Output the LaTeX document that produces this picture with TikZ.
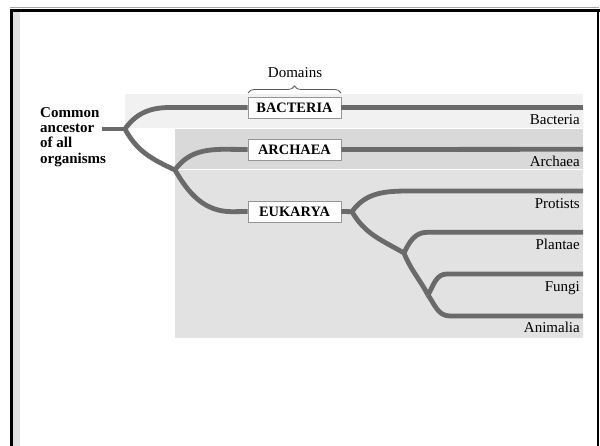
\documentclass[tikz,border=0pt]{standalone}
\usepackage{fontspec}
\setmainfont{Liberation Serif}
\usetikzlibrary{decorations.pathreplacing}
\definecolor{branchgray}{HTML}{6A6A6A}
\definecolor{panelA}{HTML}{F1F1F1}
\definecolor{panelB}{HTML}{D9D9D9}
\definecolor{panelC}{HTML}{E2E2E2}
\definecolor{stripgray}{HTML}{E2E2E2}
\definecolor{boxedge}{HTML}{959595}
\begin{document}
\begin{tikzpicture}[x=1pt,y=1pt,
  branch/.style={draw=branchgray,line width=4.8pt,line join=round},
  domainbox/.style={draw=boxedge,fill=white,line width=0.8pt,minimum width=93pt,
    minimum height=21pt,inner sep=0pt,font=\fontsize{14.4}{15}\selectfont\bfseries},
  leaflabel/.style={anchor=base east,inner sep=0pt,font=\fontsize{15}{15}\selectfont},
]
\useasboundingbox (0,0) rectangle (600,-446);
\fill[white] (0,0) rectangle (600,-446);

% frame
\fill[stripgray] (13,-12) rectangle (20,-446);
\draw[gray!70,line width=1pt] (10,-8) -- (599,-8);
\draw[black,line width=3pt] (10,-10.5) -- (599.5,-10.5);
\draw[black,line width=3pt] (11.5,-9) -- (11.5,-446);
\draw[black,line width=2.5pt] (598.2,-9) -- (598.2,-446);

% background panels
\fill[panelA] (125,-94) rectangle (583,-128.3);
\fill[panelB] (175,-129.3) rectangle (583,-169.5);
\fill[panelC] (175,-170.5) rectangle (583,-338.3);

% domain boxes
\node[domainbox] (bact) at (294.5,-107.5) {BACTERIA};
\node[domainbox] (arch) at (294.5,-149.5) {ARCHAEA};
\node[domainbox] (euk)  at (294.5,-211.5) {EUKARYA};

% brace and heading
\draw[decorate,decoration={brace,amplitude=7pt},draw=black!65,line width=0.8pt]
  (248,-93) -- (341,-93);
\node[anchor=base,inner sep=0pt,font=\fontsize{15}{15}\selectfont] (domains) at (295,-78) {Domains};

% root label
\node[anchor=north west,inner sep=0pt,align=left,
  font=\fontsize{15}{15.2}\selectfont\bfseries] (ancestor) at (40,-107.4)
  {Common\\ancestor\\of all\\organisms};

% junctions, bends and leaf ends
\coordinate (stem) at (102,-129);
\coordinate (root) at (125,-129);
\coordinate (j1) at (175,-170);
\coordinate (j2) at (352,-211.7);
\coordinate (j3) at (404,-253);
\coordinate (j4) at (428,-295);
\coordinate (bBend) at (170,-107.5);
\coordinate (aBend) at (225,-149.3);
\coordinate (eBend) at (232,-211.7);
\coordinate (pBend) at (410,-191);
\coordinate (plBend) at (427,-232.3);
\coordinate (fBend) at (447,-274);
\coordinate (anBend) at (450,-316);
\coordinate (bEnd) at (583,-107.5);
\coordinate (aEnd) at (583,-149.3);
\coordinate (pEnd) at (583,-191);
\coordinate (plEnd) at (583,-232.3);
\coordinate (fEnd) at (583,-274);
\coordinate (anEnd) at (583,-316);

% tree
\draw[branch] (stem) -- (root);
\draw[branch] (root) to[out=55,in=180] (bBend) -- (bact.west);
\draw[branch] (bact.east) -- (bEnd);
\draw[branch] (root) to[out=-62,in=155] (j1);
\draw[branch] (j1) to[out=55,in=180] (aBend) -- (arch.west);
\draw[branch] (arch.east) -- (aEnd);
\draw[branch] (j1) to[out=-60,in=180] (eBend) -- (euk.west);
\draw[branch] (euk.east) -- (j2);
\draw[branch] (j2) to[out=55,in=180] (pBend) -- (pEnd);
\draw[branch] (j2) to[out=-60,in=150] (j3);
\draw[branch] (j3) to[out=65,in=180] (plBend) -- (plEnd);
\draw[branch] (j3) to[out=-68,in=118] (j4);
\draw[branch] (j4) to[out=60,in=180] (fBend) -- (fEnd);
\draw[branch] (j4) to[out=-55,in=180] (anBend) -- (anEnd);

% leaf labels
\node[leaflabel] (lbact) at (580,-125) {Bacteria};
\node[leaflabel] (larch) at (580,-166.7) {Archaea};
\node[leaflabel] (lprot) at (580,-208.5) {Protists};
\node[leaflabel] (lplan) at (580,-249.7) {Plantae};
\node[leaflabel] (lfung) at (580,-291.7) {Fungi};
\node[leaflabel] (lanim) at (580,-333) {Animalia};
\end{tikzpicture}
\end{document}
